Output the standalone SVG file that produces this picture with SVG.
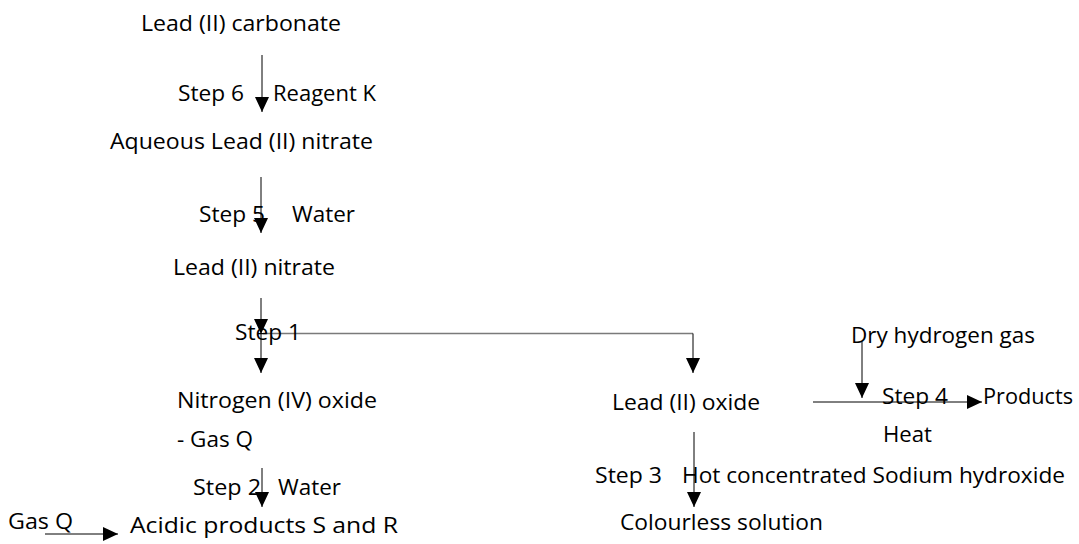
<svg xmlns="http://www.w3.org/2000/svg" width="1079" height="544" viewBox="0 0 1079 544">
<defs>
<style>
text{font-family:"Open Sans","Noto Sans","Liberation Sans",sans-serif;font-size:22px;fill:#000}
.c{stroke:#000;stroke-width:1;fill:none}
.g{stroke:#7a7a7a;stroke-width:1.6;fill:none}
</style>
<marker id="ah" markerUnits="userSpaceOnUse" markerWidth="16" markerHeight="15" refX="15" refY="7" orient="auto">
<path d="M0,0 L15,7 L0,14 Z" fill="#000"/>
</marker>
</defs>
<rect width="1079" height="544" fill="#fff"/>
<g id="connectors">
<line class="c" x1="262" y1="55" x2="262" y2="112" marker-end="url(#ah)"/>
<line class="c" x1="261" y1="177" x2="261" y2="233" marker-end="url(#ah)"/>
<line class="c" x1="261" y1="298" x2="261" y2="334" marker-end="url(#ah)"/>
<line class="c" x1="261" y1="333" x2="261" y2="373" marker-end="url(#ah)"/>
<line class="g" x1="263" y1="333.5" x2="693" y2="333.5"/>
<line class="c" x1="693" y1="333.5" x2="693" y2="373" marker-end="url(#ah)"/>
<line class="c" x1="262" y1="468" x2="262" y2="507" marker-end="url(#ah)"/>
<line class="c" x1="45" y1="534" x2="118" y2="534" marker-end="url(#ah)"/>
<line class="c" x1="694" y1="432" x2="694" y2="507" marker-end="url(#ah)"/>
<line class="c" x1="862" y1="342" x2="862" y2="398" marker-end="url(#ah)"/>
<line class="c" x1="813" y1="402" x2="982" y2="402" marker-end="url(#ah)"/>
</g>
<g id="lead-carbonate"><text x="141" y="31" textLength="200" lengthAdjust="spacingAndGlyphs">Lead (II) carbonate</text></g>
<g id="step6"><text x="178" y="101" textLength="66" lengthAdjust="spacingAndGlyphs">Step 6</text><text x="273" y="101" textLength="103" lengthAdjust="spacingAndGlyphs">Reagent K</text></g>
<g id="aqueous-lead-nitrate"><text x="110" y="149" textLength="263" lengthAdjust="spacingAndGlyphs">Aqueous Lead (II) nitrate</text></g>
<g id="step5"><text x="199" y="222" textLength="66" lengthAdjust="spacingAndGlyphs">Step 5</text><text x="292" y="222" textLength="63" lengthAdjust="spacingAndGlyphs">Water</text></g>
<g id="lead-nitrate"><text x="173" y="275" textLength="162" lengthAdjust="spacingAndGlyphs">Lead (II) nitrate</text></g>
<g id="step1"><text x="235" y="340" textLength="66" lengthAdjust="spacingAndGlyphs">Step 1</text></g>
<g id="nitrogen-oxide"><text x="177" y="408" textLength="200" lengthAdjust="spacingAndGlyphs">Nitrogen (IV) oxide</text><text x="177" y="447" textLength="76" lengthAdjust="spacingAndGlyphs">- Gas Q</text></g>
<g id="step2"><text x="193" y="495" textLength="68" lengthAdjust="spacingAndGlyphs">Step 2</text><text x="278" y="495" textLength="63" lengthAdjust="spacingAndGlyphs">Water</text></g>
<g id="gas-q"><text x="8" y="529" textLength="65" lengthAdjust="spacingAndGlyphs">Gas Q</text></g>
<g id="acidic-products"><text x="130" y="533" textLength="268" lengthAdjust="spacingAndGlyphs">Acidic products S and R</text></g>
<g id="lead-oxide"><text x="612" y="410" textLength="148" lengthAdjust="spacingAndGlyphs">Lead (II) oxide</text></g>
<g id="dry-hydrogen"><text x="851" y="343" textLength="184" lengthAdjust="spacingAndGlyphs">Dry hydrogen gas</text></g>
<g id="step4"><text x="882" y="404" textLength="66" lengthAdjust="spacingAndGlyphs">Step 4</text><text x="883" y="442" textLength="49" lengthAdjust="spacingAndGlyphs">Heat</text></g>
<g id="products"><text x="983" y="404" textLength="90" lengthAdjust="spacingAndGlyphs">Products</text></g>
<g id="step3"><text x="595" y="483" textLength="67" lengthAdjust="spacingAndGlyphs">Step 3</text><text x="682" y="483" textLength="383" lengthAdjust="spacingAndGlyphs">Hot concentrated Sodium hydroxide</text></g>
<g id="colourless-solution"><text x="620" y="530" textLength="203" lengthAdjust="spacingAndGlyphs">Colourless solution</text></g>
</svg>
